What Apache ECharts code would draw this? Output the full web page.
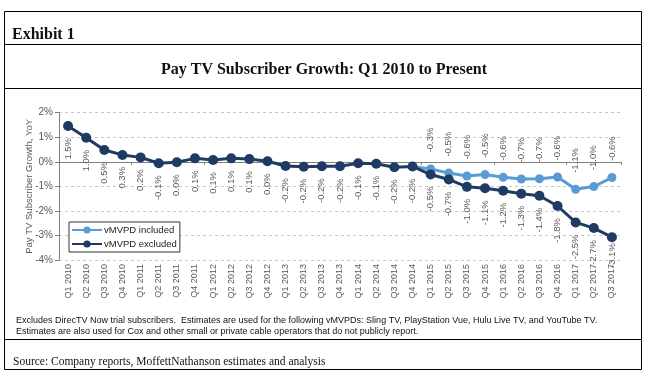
<!DOCTYPE html>
<html>
<head>
<meta charset="utf-8">
<script src="https://cdn.jsdelivr.net/npm/echarts@6/dist/echarts.min.js"></script>
<style>
html,body{margin:0;padding:0;background:#fff;}
#chart{width:648px;height:378px;}
</style>
</head>
<body>
<div id="chart"></div>
<script>
var categories = ['Q1 2010','Q2 2010','Q3 2010','Q4 2010','Q1 2011','Q2 2011','Q3 2011','Q4 2011',
  'Q1 2012','Q2 2012','Q3 2012','Q4 2012','Q1 2013','Q2 2013','Q3 2013','Q4 2013',
  'Q1 2014','Q2 2014','Q3 2014','Q4 2014','Q1 2015','Q2 2015','Q3 2015','Q4 2015',
  'Q1 2016','Q2 2016','Q3 2016','Q4 2016','Q1 2017','Q2 2017','Q3 2017'];

var vmvpdExcluded = [1.46, 0.98, 0.48, 0.28, 0.18, -0.06, -0.02, 0.14,
  0.07, 0.14, 0.11, 0.02, -0.17, -0.2, -0.18, -0.18,
  -0.06, -0.08, -0.22, -0.19, -0.52, -0.72, -1.02, -1.08,
  -1.18, -1.3, -1.38, -1.8, -2.47, -2.7, -3.07];

var vmvpdIncluded = [null, null, null, null, null, null, null, null,
  null, null, null, null, null, null, null, null,
  null, null, null, -0.19, -0.29, -0.46, -0.58, -0.52,
  -0.63, -0.7, -0.69, -0.62, -1.12, -1.01, -0.64];

var yTicks = [-4, -3, -2, -1, 0, 1, 2];

var seriesNames = ['vMVPD included', 'vMVPD excluded'];
var titleText = 'Pay TV Subscriber Growth: Q1 2010 to Present';
var exhibitText = 'Exhibit 1';
var yAxisName = 'Pay TV Subscriber Growth, YoY';
var noteLines = ['Excludes DirecTV Now trial subscribers.  Estimates are used for the following vMVPDs: Sling TV, PlayStation Vue, Hulu Live TV, and YouTube TV.',
  'Estimates are also used for Cox and other small or private cable operators that do not publicly report.'];
var sourceText = 'Source: Company reports, MoffettNathanson estimates and analysis';

function fmtPct(v) {
  var r = Math.round(v * 10) / 10;
  return r.toFixed(1) + '%';
}

var DARK = '#1F3A63';
var LIGHT = '#5B9BD5';
var GRAYTXT = '#595959';

var includedFirst = vmvpdIncluded.findIndex(function (v) { return v != null; });
var includedData = vmvpdIncluded.map(function (v, i) {
  if (i === includedFirst) return { value: v, label: { show: false } };
  return v;
});
var excludedData = vmvpdExcluded.map(function (v, i) {
  if (i === vmvpdExcluded.length - 1) return { value: v, label: { distance: 1 } };
  return v;
});

var chart = echarts.init(document.getElementById('chart'), null, { renderer: 'canvas' });

var option = {
  backgroundColor: '#ffffff',
  animation: false,
  grid: { left: 59, right: 27, top: 112.7, bottom: 118, containLabel: false },
  legend: {
    data: seriesNames,
    orient: 'vertical',
    left: 69,
    top: 222,
    itemWidth: 30,
    itemHeight: 9,
    itemGap: 4,
    padding: [3, 3, 3, 2],
    backgroundColor: '#ffffff',
    borderColor: '#333333',
    borderWidth: 1,
    borderRadius: 0,
    textStyle: { fontFamily: 'Liberation Sans, Arial, sans-serif', fontSize: 9.5, color: '#222222', padding: [0, 0, 0, -3] }
  },
  xAxis: [
    {
      type: 'category',
      data: categories,
      position: 'bottom',
      boundaryGap: true,
      axisLine: { show: true, onZero: true, lineStyle: { color: '#808080', width: 1 } },
      axisTick: { show: true, length: 3, lineStyle: { color: '#808080' } },
      axisLabel: { show: false },
      splitLine: { show: false }
    },
    {
      type: 'category',
      data: categories,
      position: 'bottom',
      boundaryGap: true,
      axisLine: { show: false, onZero: false },
      axisTick: { show: false },
      axisLabel: {
        show: true, rotate: 90, interval: 0, margin: 4,
        fontFamily: 'Liberation Sans, Arial, sans-serif', fontSize: 9, color: GRAYTXT
      },
      splitLine: { show: false }
    }
  ],
  yAxis: {
    type: 'value',
    min: yTicks[0],
    max: yTicks[yTicks.length - 1],
    interval: 1,
    name: yAxisName,
    nameLocation: 'middle',
    nameRotate: 90,
    nameGap: 25,
    nameMoveOverlap: false,
    nameTextStyle: { fontFamily: 'Liberation Sans, Arial, sans-serif', fontSize: 9.5, color: GRAYTXT },
    axisLine: { show: true, lineStyle: { color: '#808080', width: 1 } },
    axisTick: { show: true, length: 4, lineStyle: { color: '#808080' } },
    axisLabel: {
      formatter: '{value}%', margin: 6,
      fontFamily: 'Liberation Sans, Arial, sans-serif', fontSize: 10, color: GRAYTXT
    },
    splitLine: { show: true, lineStyle: { type: [3, 3], color: '#C8C8C8', width: 1 } }
  },
  series: [
    {
      name: seriesNames[0],
      type: 'line',
      xAxisIndex: 0,
      data: includedData,
      connectNulls: false,
      symbol: 'circle',
      symbolSize: 9,
      lineStyle: { color: LIGHT, width: 3 },
      itemStyle: { color: LIGHT },
      label: {
        show: true, position: 'top', rotate: 90, distance: 12,
        align: 'left', verticalAlign: 'middle',
        fontFamily: 'Liberation Sans, Arial, sans-serif', fontSize: 9.5, color: GRAYTXT,
        formatter: function (p) { return fmtPct(p.value); }
      },
      z: 2
    },
    {
      name: seriesNames[1],
      type: 'line',
      xAxisIndex: 0,
      data: excludedData,
      symbol: 'circle',
      symbolSize: 10,
      lineStyle: { color: DARK, width: 3 },
      itemStyle: { color: DARK },
      label: {
        show: true, position: 'bottom', rotate: 90, distance: 7,
        align: 'right', verticalAlign: 'middle',
        fontFamily: 'Liberation Sans, Arial, sans-serif', fontSize: 9.5, color: GRAYTXT,
        formatter: function (p) { return fmtPct(p.value); }
      },
      z: 3
    }
  ],
  graphic: [
    { type: 'rect', shape: { x: 4.5, y: 11.5, width: 637, height: 358 }, style: { fill: null, stroke: '#000', lineWidth: 1 }, z: 100 },
    { type: 'line', shape: { x1: 4.5, y1: 44.5, x2: 641.5, y2: 44.5 }, style: { stroke: '#000', lineWidth: 1 }, z: 100 },
    { type: 'line', shape: { x1: 4.5, y1: 88.5, x2: 641.5, y2: 88.5 }, style: { stroke: '#000', lineWidth: 1 }, z: 100 },
    { type: 'line', shape: { x1: 4.5, y1: 339.5, x2: 641.5, y2: 339.5 }, style: { stroke: '#000', lineWidth: 1 }, z: 100 },
    { type: 'text', left: 12, top: 27, style: { text: exhibitText, font: 'bold 16px "Liberation Serif", "Times New Roman", serif', fill: '#111' }, z: 100 },
    { type: 'text', left: 'center', top: 62, style: { text: titleText, font: 'bold 16px "Liberation Serif", "Times New Roman", serif', fill: '#111' }, z: 100 },
    { type: 'text', left: 16, top: 316, style: { text: noteLines[0], font: '9px "Liberation Sans", Arial, sans-serif', fill: '#111' }, z: 100 },
    { type: 'text', left: 16, top: 327, style: { text: noteLines[1], font: '9px "Liberation Sans", Arial, sans-serif', fill: '#111' }, z: 100 },
    { type: 'text', left: 13, top: 356, style: { text: sourceText, font: '11.5px "Liberation Serif", "Times New Roman", serif', fill: '#111' }, z: 100 }
  ]
};

chart.setOption(option);
</script>
</body>
</html>
